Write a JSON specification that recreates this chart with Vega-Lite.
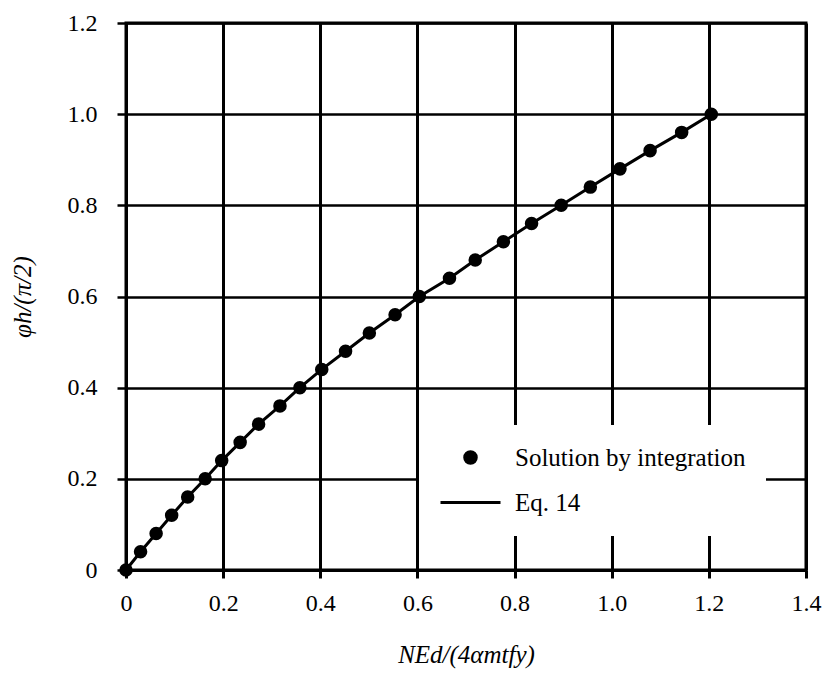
{
  "$schema": "https://vega.github.io/schema/vega-lite/v6.json",
  "width": 680,
  "height": 547,
  "autosize": {"type": "none"},
  "padding": {"left": 126, "top": 23, "right": 17, "bottom": 105},
  "background": "white",
  "config": {
    "view": {"stroke": "black", "strokeWidth": 3},
    "font": "'Liberation Serif', 'DejaVu Serif', serif"
  },
  "data": {
    "values": [
      {"x": 0, "y": 0, "series": "Solution by integration"},
      {"x": 0.030, "y": 0.04, "series": "Solution by integration"},
      {"x": 0.062, "y": 0.08, "series": "Solution by integration"},
      {"x": 0.094, "y": 0.12, "series": "Solution by integration"},
      {"x": 0.127, "y": 0.16, "series": "Solution by integration"},
      {"x": 0.163, "y": 0.20, "series": "Solution by integration"},
      {"x": 0.197, "y": 0.24, "series": "Solution by integration"},
      {"x": 0.235, "y": 0.28, "series": "Solution by integration"},
      {"x": 0.273, "y": 0.32, "series": "Solution by integration"},
      {"x": 0.317, "y": 0.36, "series": "Solution by integration"},
      {"x": 0.358, "y": 0.40, "series": "Solution by integration"},
      {"x": 0.403, "y": 0.44, "series": "Solution by integration"},
      {"x": 0.452, "y": 0.48, "series": "Solution by integration"},
      {"x": 0.501, "y": 0.52, "series": "Solution by integration"},
      {"x": 0.554, "y": 0.56, "series": "Solution by integration"},
      {"x": 0.604, "y": 0.60, "series": "Solution by integration"},
      {"x": 0.666, "y": 0.64, "series": "Solution by integration"},
      {"x": 0.719, "y": 0.68, "series": "Solution by integration"},
      {"x": 0.777, "y": 0.72, "series": "Solution by integration"},
      {"x": 0.835, "y": 0.76, "series": "Solution by integration"},
      {"x": 0.896, "y": 0.80, "series": "Solution by integration"},
      {"x": 0.956, "y": 0.84, "series": "Solution by integration"},
      {"x": 1.017, "y": 0.88, "series": "Solution by integration"},
      {"x": 1.079, "y": 0.92, "series": "Solution by integration"},
      {"x": 1.144, "y": 0.96, "series": "Solution by integration"},
      {"x": 1.205, "y": 1.00, "series": "Solution by integration"}
    ]
  },
  "encoding": {
    "x": {
      "field": "x",
      "type": "quantitative",
      "scale": {"domain": [0, 1.4], "nice": false, "zero": false},
      "axis": {
        "values": [0, 0.2, 0.4, 0.6, 0.8, 1, 1.2, 1.4],
        "labelExpr": "datum.value == 0 ? '0' : format(datum.value, '.1f')",
        "title": "NEd/(4αmtfy)",
        "grid": true,
        "gridColor": "black",
        "gridWidth": 3,
        "gridOpacity": 1,
        "domainColor": "black",
        "domainWidth": 3,
        "tickColor": "black",
        "tickWidth": 3,
        "tickSize": 8,
        "labelFont": "'Liberation Serif', 'DejaVu Serif', serif",
        "labelFontSize": 24,
        "labelColor": "black",
        "labelPadding": 13,
        "labelFlush": false,
        "labelOverlap": false,
        "titleFont": "'Liberation Serif', 'DejaVu Serif', serif",
        "titleFontStyle": "italic",
        "titleFontWeight": "normal",
        "titleFontSize": 25,
        "titleColor": "black",
        "titlePadding": 27
      }
    },
    "y": {
      "field": "y",
      "type": "quantitative",
      "scale": {"domain": [0, 1.2], "nice": false, "zero": false},
      "axis": {
        "values": [0, 0.2, 0.4, 0.6, 0.8, 1, 1.2],
        "labelExpr": "datum.value == 0 ? '0' : format(datum.value, '.1f')",
        "title": "φh/(π/2)",
        "grid": true,
        "gridColor": "black",
        "gridWidth": 2.5,
        "gridOpacity": 1,
        "domainColor": "black",
        "domainWidth": 3,
        "tickColor": "black",
        "tickWidth": 2.5,
        "tickSize": 9,
        "labelFont": "'Liberation Serif', 'DejaVu Serif', serif",
        "labelFontSize": 24,
        "labelColor": "black",
        "labelPadding": 20,
        "labelFlush": false,
        "labelOverlap": false,
        "titleFont": "'Liberation Serif', 'DejaVu Serif', serif",
        "titleFontStyle": "italic",
        "titleFontWeight": "normal",
        "titleFontSize": 25,
        "titleColor": "black",
        "titlePadding": 32
      }
    }
  },
  "layer": [
    {
      "mark": {"type": "line", "color": "black", "strokeWidth": 3}
    },
    {
      "mark": {"type": "point", "filled": true, "color": "black", "stroke": "black", "strokeWidth": 2, "opacity": 1},
      "encoding": {
        "shape": {
          "field": "series",
          "type": "nominal",
          "scale": {"domain": ["Solution by integration", "Eq. 14"], "range": ["circle", "stroke"]},
          "legend": {
            "title": null,
            "orient": "none",
            "legendX": 293,
            "legendY": 402,
            "fillColor": "white",
            "padding": 20,
            "rowPadding": 0,
            "labelOffset": 13,
            "labelFont": "'Liberation Serif', 'DejaVu Serif', serif",
            "labelFontSize": 25,
            "labelColor": "black",
            "labelLimit": 400,
            "symbolStrokeColor": "black",
            "symbolFillColor": "black",
            "symbolStrokeWidth": 3,
            "symbolOpacity": 1
          }
        },
        "size": {
          "field": "series",
          "type": "nominal",
          "scale": {"type": "ordinal", "domain": ["Solution by integration", "Eq. 14"], "range": [133, 3600]}
        }
      }
    }
  ]
}
